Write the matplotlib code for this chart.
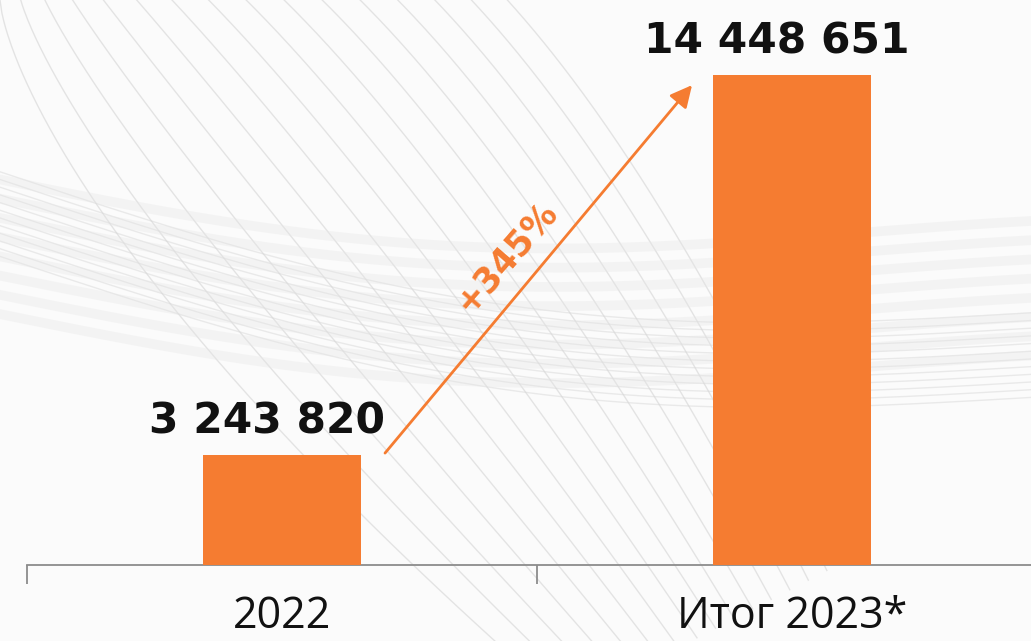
import numpy as np
import matplotlib
matplotlib.use('Agg')
import matplotlib.pyplot as plt

categories = ['2022', 'Итог 2023*']
values = [3243820, 14448651]
value_labels = ['3 243 820', '14 448 651']
growth_label = '+345%'

ORANGE = '#F57C31'

fig = plt.figure(figsize=(10.31, 6.41), dpi=100)
fig.patch.set_facecolor('#fbfbfb')

# faint decorative background curves
bg = fig.add_axes([0, 0, 1, 1], zorder=0)
bg.set_xlim(0, 1)
bg.set_ylim(0, 1)
bg.axis('off')
t = np.linspace(0, 1, 300)
for k in range(16):
    y = 1.0 - 1.1 * t ** (0.7 + 0.07 * k) + 0.015 * k
    bg.plot(t * 0.55 + 0.018 * k, y, color='#d4d4d4', lw=1.0, alpha=0.6)
for k in range(12):
    y = 0.60 - 0.10 * np.sin(np.pi * t) + 0.012 * k - 0.22 * t
    bg.plot(t, y, color='#d8d8d8', lw=1.0, alpha=0.5)
for k in range(8):
    y = 0.72 - 0.06 * np.sin(np.pi * t * 1.2) - 0.03 * k - 0.1 * t
    bg.plot(t, y, color='#e6e6e6', lw=7, alpha=0.35)

ax = fig.add_axes([27 / 1031, 1 - 565 / 641, 1020 / 1031, 565 / 641], zorder=1)
ax.patch.set_alpha(0)
x = np.arange(len(categories))
ax.bar(x, values, width=0.31, color=ORANGE, zorder=3)
ax.set_xlim(-0.5, 1.5)
ax.set_ylim(0, 16.66e6)

for xi, v, lab in zip(x, values, value_labels):
    ax.annotate(lab, (xi, v), xytext=(-11, 9), textcoords='offset points',
                ha='center', va='bottom', fontsize=30.5, fontweight='bold',
                color='#111111', family='DejaVu Sans')

ax.annotate('', xy=(0.804, 14.15e6), xytext=(0.202, 3.30e6),
            arrowprops=dict(arrowstyle='-|>,head_length=0.6,head_width=0.3',
                            color=ORANGE, lw=2,
                            mutation_scale=22, shrinkA=0, shrinkB=0))
ax.text(0.44, 9.1e6, growth_label, rotation=49, rotation_mode='anchor',
        ha='center', va='center', fontsize=25, fontweight='bold', color=ORANGE)

for s in ['top', 'right', 'left']:
    ax.spines[s].set_visible(False)
ax.spines['bottom'].set_color('#8c8c8c')
ax.spines['bottom'].set_linewidth(1.3)
ax.set_yticks([])
ax.set_xticks([-0.5, 0.5, 1.5], minor=False)
ax.set_xticklabels([])
ax.tick_params(axis='x', length=14, color='#8c8c8c', width=1.3)
for xi, cat in zip(x, categories):
    ax.text(xi, -2.19e6, cat, ha='center', va='bottom', fontsize=31,
            family='Open Sans', color='#111111')

fig.savefig('out.png', dpi=100, facecolor=fig.get_facecolor())
